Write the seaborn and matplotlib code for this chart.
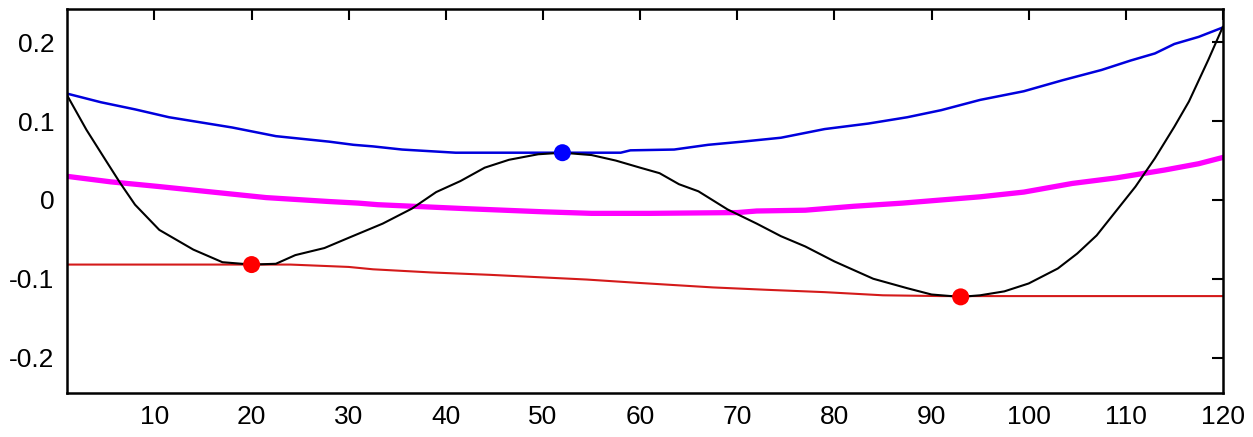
"""
Signal with upper/lower envelopes and their mean, extrema marked.
"""

import matplotlib
matplotlib.use('Agg')
import matplotlib.pyplot as plt
import seaborn as sns

# ----------------------------------------------- DATA ----------------------------------------------- #

signal_x = [1, 3, 5, 6.5, 8, 10.5, 14, 17, 20, 22.5, 24.5, 27.5, 30, 33.5, 36.5, 39, 41.5, 44, 46.5, 49.5,
            52, 55, 57.5, 60, 62, 64, 66, 69, 72, 74.5, 77, 80, 84, 87.5, 90, 93, 95, 97.5, 100, 103, 105,
            107, 109, 111, 113, 115, 116.5, 118.5, 120]
signal_y = [0.133, 0.089, 0.050, 0.021, -0.006, -0.038, -0.063, -0.079, -0.082, -0.081, -0.070, -0.061,
            -0.048, -0.030, -0.011, 0.010, 0.024, 0.041, 0.051, 0.058, 0.060, 0.057, 0.050, 0.041, 0.034,
            0.020, 0.011, -0.012, -0.030, -0.046, -0.059, -0.078, -0.100, -0.112, -0.120, -0.123, -0.121,
            -0.116, -0.106, -0.087, -0.068, -0.045, -0.014, 0.017, 0.053, 0.093, 0.125, 0.178, 0.220]

upper_x = [1, 4.5, 8, 11.5, 15, 18, 22.5, 28, 30.5, 32.5, 35.5, 41, 46, 52, 58, 59, 63.5, 67, 70.5, 74.5,
           79, 83.5, 87.5, 91, 95, 99.5, 103.5, 107.5, 110.5, 113, 115, 117.5, 120]
upper_y = [0.135, 0.124, 0.115, 0.105, 0.098, 0.092, 0.081, 0.074, 0.070, 0.068, 0.064, 0.060, 0.060,
           0.060, 0.060, 0.063, 0.064, 0.070, 0.074, 0.079, 0.090, 0.097, 0.105, 0.114, 0.127, 0.138,
           0.152, 0.165, 0.177, 0.186, 0.198, 0.207, 0.219]

mean_x = [1, 5.5, 10.5, 16, 21.5, 28, 31, 33, 42, 50, 55, 61, 70, 72, 77, 82, 87, 91, 95, 99.5, 104.5,
          109, 114, 117.5, 120]
mean_y = [0.030, 0.023, 0.017, 0.010, 0.003, -0.002, -0.004, -0.006, -0.011, -0.015, -0.017, -0.017,
          -0.016, -0.014, -0.013, -0.008, -0.004, 0.000, 0.004, 0.010, 0.021, 0.028, 0.038, 0.046, 0.054]

lower_x = [1, 24, 30, 32.5, 38.5, 44.5, 49.5, 54.5, 59.5, 63.5, 67.5, 73, 79, 85, 91, 120]
lower_y = [-0.082, -0.082, -0.085, -0.088, -0.092, -0.095, -0.098, -0.101, -0.105, -0.108, -0.111,
           -0.114, -0.117, -0.121, -0.122, -0.122]

max_x = [52]
max_y = [0.060]
min_x = [20, 93]
min_y = [-0.082, -0.123]

x_ticks = [10, 20, 30, 40, 50, 60, 70, 80, 90, 100, 110, 120]
y_ticks = [0.2, 0.1, 0, -0.1, -0.2]
y_tick_labels = ['0.2', '0.1', '0', '-0.1', '-0.2']

# ----------------------------------------------- PLOT ----------------------------------------------- #

sns.set_style('white')
plt.rcParams['font.family'] = ['Liberation Sans Narrow', 'Liberation Sans', 'DejaVu Sans']

fig = plt.figure(figsize=(12.53, 4.37), dpi=100)
ax = fig.add_axes([0.0535, 0.1007, 0.9225, 0.878])

sns.lineplot(x=mean_x, y=mean_y, color='#ff00ff', linewidth=3.8, ax=ax)
sns.lineplot(x=upper_x, y=upper_y, color='#0000dd', linewidth=1.8, ax=ax)
sns.lineplot(x=lower_x, y=lower_y, color='#d41a1a', linewidth=1.5, ax=ax)
sns.lineplot(x=signal_x, y=signal_y, color='black', linewidth=1.5, ax=ax)
sns.scatterplot(x=max_x, y=max_y, color='#0000ff', s=150, edgecolor='none', zorder=5, ax=ax)
sns.scatterplot(x=min_x, y=min_y, color='#ff0000', s=150, edgecolor='none', zorder=5, ax=ax)

ax.set_xlim(1, 120)
ax.set_ylim(-0.245, 0.242)
ax.set_xticks(x_ticks)
ax.set_yticks(y_ticks)
ax.set_yticklabels(y_tick_labels)
ax.tick_params(direction='in', length=8, width=1.5, top=True, right=True,
               labeltop=False, labelright=False, labelsize=19, pad=9, colors='black')
for spine in ax.spines.values():
    spine.set_color('black')
    spine.set_linewidth(1.8)

fig.savefig('out.png', dpi=100)
